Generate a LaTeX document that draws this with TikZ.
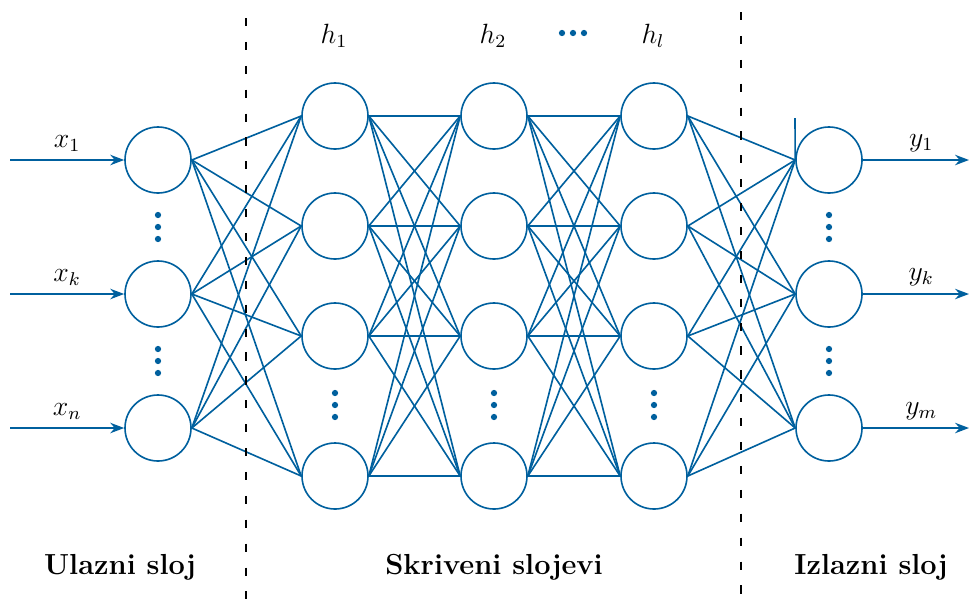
\documentclass[tikz,border=0pt]{standalone}
\usetikzlibrary{arrows.meta}
\definecolor{nnblue}{RGB}{0,96,158}
\begin{document}
\begin{tikzpicture}[x=0.01515cm,y=-0.01515cm,
  neuron/.style={circle,draw=nnblue,line width=0.7pt,minimum size=1cm,inner sep=0pt},
  conn/.style={nnblue,line width=0.7pt},
  io/.style={nnblue,line width=0.7pt,-{Stealth[length=6pt,width=4.5pt]}},
  dotc/.style={circle,fill=nnblue,inner sep=0pt,minimum size=2.7pt},
  sep/.style={black,thick,dash pattern=on 3.5pt off 6.8pt},
  mlbl/.style={black,font=\large},
  lbl/.style={font=\fontsize{12.5}{15}\selectfont\bfseries}]
\useasboundingbox (0,0) rectangle (969,599);
% input nodes
\node[neuron] (i1) at (158,160) {};
\node[neuron] (i2) at (158,294) {};
\node[neuron] (i3) at (158,428) {};
% hidden layers
\foreach \c/\x in {a/335,b/494,c/654}{
  \node[neuron] (\c1) at (\x,116) {};
  \node[neuron] (\c2) at (\x,226) {};
  \node[neuron] (\c3) at (\x,336) {};
  \node[neuron] (\c4) at (\x,476) {};
}
% output nodes
\node[neuron] (o1) at (829,160) {};
\node[neuron] (o2) at (829,294) {};
\node[neuron] (o3) at (829,428) {};
% connections
\foreach \i in {1,2,3}{\foreach \j in {1,2,3,4}{\draw[conn] (i\i.east) -- (a\j.west);}}
\foreach \i in {1,2,3,4}{\foreach \j in {1,2,3,4}{
  \draw[conn] (a\i.east) -- (b\j.west);
  \draw[conn] (b\i.east) -- (c\j.west);}}
\foreach \i in {1,2,3,4}{\foreach \j in {1,2,3}{\draw[conn] (c\i.east) -- (o\j.west);}}
\coordinate (stub) at (795,118);
\draw[conn] (stub) -- (o1.west);
% input/output arrows
\coordinate (in1) at (10,160);
\coordinate (in2) at (10,294);
\coordinate (in3) at (10,428);
\coordinate (out1) at (969,160);
\coordinate (out2) at (969,294);
\coordinate (out3) at (969,428);
\draw[io] (in1) -- (i1.west) node[pos=0.5,above,mlbl] {$x_1$};
\draw[io] (in2) -- (i2.west) node[pos=0.5,above,mlbl] {$x_k$};
\draw[io] (in3) -- (i3.west) node[pos=0.5,above,mlbl] {$x_n$};
\draw[io] (o1.east) -- (out1) node[pos=0.55,above,mlbl] {$y_1$};
\draw[io] (o2.east) -- (out2) node[pos=0.55,above,mlbl] {$y_k$};
\draw[io] (o3.east) -- (out3) node[pos=0.55,above,mlbl] {$y_m$};
% dots
\foreach \y in {215,227,239,349,361,373}{\node[dotc] (d\y) at (158,\y) {};}
\foreach \y in {215,227,239,349,361,373}{\node[dotc] (e\y) at (829,\y) {};}
\foreach \x in {335,494,654}{\foreach \y in {393,405,417}{\node[dotc] (h\x-\y) at (\x,\y) {};}}
\foreach \x in {562,573,584}{\node[dotc] (t\x) at (\x,33) {};}
% layer labels
\node[mlbl] (h1l) at (334,36) {$h_1$};
\node[mlbl] (h2l) at (493,36) {$h_2$};
\node[mlbl] (hll) at (653,36) {$h_l$};
% separators
\coordinate (s1t) at (246,18);
\coordinate (s1b) at (246,599);
\coordinate (s2t) at (741,12);
\coordinate (s2b) at (741,599);
\draw[sep] (s1t) -- (s1b);
\draw[sep] (s2t) -- (s2b);
% bottom labels
\node[lbl] (L1) at (120,567) {Ulazni sloj};
\node[lbl] (L2) at (494,567) {Skriveni slojevi};
\node[lbl] (L3) at (871,567) {Izlazni sloj};
\end{tikzpicture}
\end{document}
